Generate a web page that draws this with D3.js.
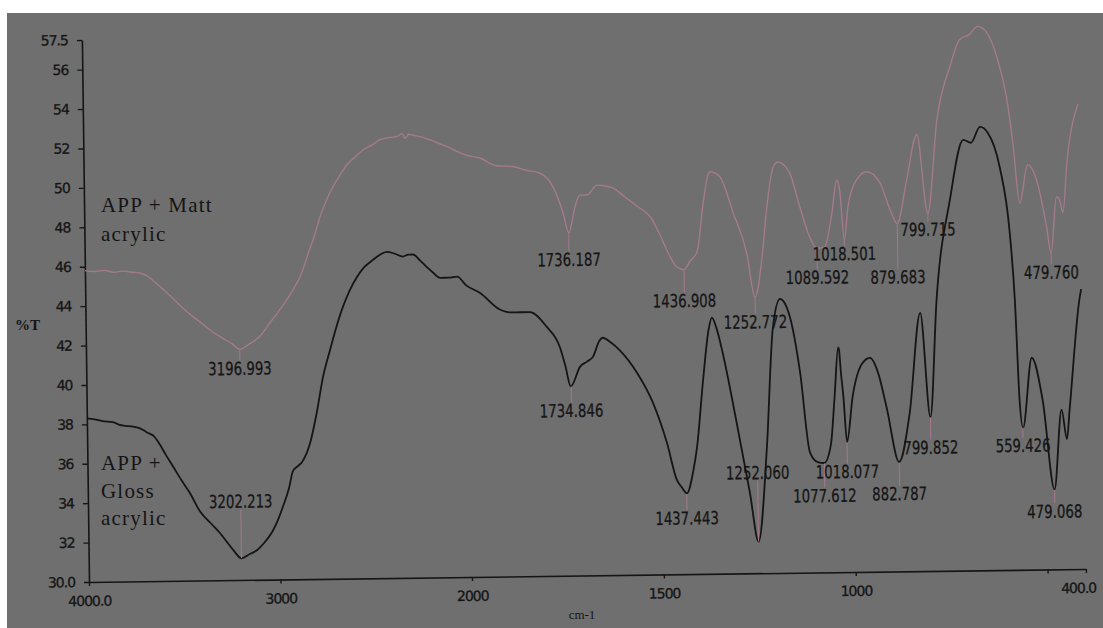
<html>
<head>
    <style>
        body {
            margin: 0;
            background: white;
        }
        svg {
            display: block;
        }
    </style>
    <script src="https://cdn.jsdelivr.net/npm/d3@7/dist/d3.min.js"></script>
</head>

<body>
    <svg id="chart"></svg>

    <script>

    // APP + Matt acrylic (upper, pink trace)
    let mattWn = [4000, 3950, 3900, 3850, 3800, 3765, 3720, 3676, 3640, 3593, 3530, 3470, 3400, 3337, 3280, 3238,
        3197, 3150, 3091, 3040, 2984, 2914, 2870, 2839, 2800, 2768, 2730, 2699, 2660, 2624, 2580, 2538, 2490, 2449,
        2400, 2360, 2335, 2320, 2300, 2277, 2230, 2188, 2140, 2100, 2050, 2000, 1965, 1922, 1880, 1845, 1810, 1776,
        1750, 1736, 1719, 1706, 1688, 1661, 1640, 1620, 1590, 1557, 1523, 1500, 1481, 1456, 1437, 1420, 1410, 1401,
        1385, 1367, 1341, 1307, 1273, 1253, 1234, 1219, 1201, 1189, 1159, 1133, 1108, 1090, 1070, 1050, 1036, 1029,
        1018, 1008, 984, 958, 924, 898, 880, 854, 826, 800, 773, 737, 711, 685, 664, 641, 615, 591, 576, 560, 538,
        516, 491, 480, 464, 456, 448, 435, 405]
    let mattT = [45.8, 45.75, 45.8, 45.7, 45.75, 45.7, 45.65, 45.5, 45.2, 44.8, 44.2, 43.65, 43.1, 42.6, 42.25, 42.0,
        41.7, 41.95, 42.35, 43.0, 43.7, 44.7, 45.5, 46.35, 47.4, 48.4, 49.3, 49.9, 50.5, 51.0, 51.4, 51.75, 52.0, 52.25,
        52.35, 52.4, 52.55, 52.3, 52.5, 52.45, 52.35, 52.2, 52.0, 51.85, 51.6, 51.4, 51.25, 50.85, 50.8, 50.6, 50.45, 49.75,
        48.4, 47.4, 48.7, 49.3, 49.3, 49.8, 49.75, 49.65, 49.2, 48.7, 48.15, 47.3, 46.45, 45.6, 45.45, 45.9, 46.1, 46.45,
        48.8, 50.4, 50.15, 48.3, 46.25, 44.0, 45.9, 48.6, 50.6, 50.85, 50.3, 48.55, 47.0, 46.45, 46.5, 48.2, 49.9, 49.4,
        46.85, 48.5, 49.9, 50.3, 49.75, 48.35, 47.65, 49.85, 52.15, 48.15, 52.9, 55.6, 56.95, 57.2, 57.6, 57.3, 56.05, 54.0, 51.7, 48.6, 50.55,
        49.8, 47.4, 46.05, 48.9, 48.75, 48.1, 50.75, 53.6]

    // APP + Gloss acrylic (lower, black trace)
    let glossWn = [4000, 3960, 3920, 3864, 3830, 3800, 3760, 3720, 3687, 3650, 3619, 3590, 3553, 3510, 3467, 3415,
        3360, 3313, 3246, 3202, 3160, 3121, 3080, 3041, 3010, 2982, 2950, 2927, 2900, 2879, 2836, 2799, 2764, 2726,
        2690, 2655, 2620, 2580, 2540, 2496, 2460, 2423, 2380, 2339, 2310, 2286, 2250, 2214, 2180, 2146, 2100, 2057,
        2010, 1969, 1918, 1892, 1865, 1840, 1797, 1763, 1750, 1736, 1711, 1693, 1677, 1660, 1651, 1630, 1607, 1563,
        1522, 1487, 1463, 1450, 1437, 1420, 1409, 1391, 1375, 1366, 1355, 1339, 1305, 1273, 1252, 1227, 1208, 1188,
        1163, 1138, 1115, 1095, 1078, 1060, 1049, 1038, 1036, 1032, 1026, 1018, 1002, 975, 955, 935, 914, 883, 854,
        823, 800, 780, 742, 705, 685, 661, 641, 611, 587, 576, 567, 559, 534, 507, 479, 458, 445, 437, 408, 403]
    let glossT = [38.3, 38.25, 38.15, 38.1, 37.95, 37.9, 37.85, 37.75, 37.55, 37.35, 36.9, 36.4, 35.8, 35.1, 34.45, 33.5,
        32.9, 32.4, 31.55, 31.1, 31.3, 31.5, 31.9, 32.4, 33.0, 33.7, 34.6, 35.5, 35.75, 35.95, 36.9, 38.45, 40.25, 41.6,
        42.8, 43.8, 44.6, 45.3, 45.8, 46.15, 46.4, 46.55, 46.45, 46.3, 46.4, 46.4, 46.1, 45.75, 45.45, 45.2, 45.2, 45.25,
        44.8, 44.4, 43.55, 43.4, 43.4, 43.4, 42.65, 41.6, 40.7, 39.6, 40.6, 40.85, 41.1, 41.9, 42.05, 41.8, 41.4, 40.25,
        38.7, 36.65, 34.8, 34.4, 34.1, 35.2, 36.45, 39.85, 42.4, 43.0, 42.5, 41.2, 37.65, 34.1, 31.6, 36.4, 42.35, 43.9,
        43.0, 40.15, 36.1, 35.6, 35.55, 36.5, 38.9, 41.4, 41.3, 40.2, 38.9, 36.6, 38.9, 40.6, 40.85, 40.1, 38.35, 35.55, 38.0,
        43.1, 37.8, 43.75, 48.8, 51.85, 51.7, 52.5, 52.2, 50.45, 47.1, 43.7, 38.6, 37.2, 40.75, 38.6, 34.05, 38.1, 36.6, 38.1, 43.65, 44.2]

    let mattPeaks = ["3196.993", "1736.187", "1436.908", "1252.772", "1089.592", "1018.501", "879.683", "799.715", "479.760"]
    let glossPeaks = ["3202.213", "1734.846", "1437.443", "1252.060", "1077.612", "1018.077", "882.787", "799.852", "559.426", "479.068"]

    let xTicks = [4000, 3000, 2000, 1500, 1000, 500, 400]
    let xTickLabels = ["4000.0", "3000", "2000", "1500", "1000", "", "400.0"]
    let yTicks = [30, 32, 34, 36, 38, 40, 42, 44, 46, 48, 50, 52, 54, 56, 57.5]
    let yTickLabels = ["30.0", "32", "34", "36", "38", "40", "42", "44", "46", "48", "50", "52", "54", "56", "57.5"]


    // where each peak label sits, relative to the trace (px)
    let mattLabelDy = [19, 27, 31, 25, 29, 16, 54, 17, 20]
    let glossLabelDy = [-57, 25, 25, -69, 33, 30, 32, 31, 19, 22]

    let ink = "#151515"
    let pink = "#a47a8c"


    function toPoints(wn, t) {
        return wn.map((w, i) => ({ w: w, t: t[i] }))
    }

    // value of the trace at wavenumber w (points run from high to low w)
    function valueAt(pts, w) {
        for (let i = 0; i < pts.length - 1; i++) {
            let a = pts[i], b = pts[i + 1]
            if (w <= a.w && w >= b.w) {
                let f = (a.w - w) / (a.w - b.w)
                return a.t + f * (b.t - a.t)
            }
        }
        return pts[pts.length - 1].t
    }

    function drawPeaks(g, pts, peaks, offsets, x, y) {
        peaks.forEach((p, i) => {
            let w = +p
            let px = x(w)
            let py = y(valueAt(pts, w))
            let ly = py + offsets[i]
            let y1 = offsets[i] > 0 ? py + 1 : ly + 8
            let y2 = offsets[i] > 0 ? ly - 8 : py

            g.append("line")
                .attr("x1", px).attr("x2", px)
                .attr("y1", y1).attr("y2", y2)
                .attr("stroke", pink)
                .attr("stroke-width", 1)

            g.append("text")
                .attr("transform", `translate(${px},${ly}) scale(0.74,1)`)
                .attr("text-anchor", "middle")
                .attr("dy", "0.36em")
                .attr("font-family", "DejaVu Sans")
                .attr("font-size", 18)
                .attr("fill", ink)
                .attr("stroke", ink)
                .attr("stroke-width", 0.3)
                .text(p)
        })
    }


    function drawChart() {
        let width = 1103
        let height = 628

        let svg = d3.select("#chart")
            .attr("width", width)
            .attr("height", height)

        svg.append("rect")
            .attr("width", width).attr("height", height)
            .attr("fill", "white")
        svg.append("rect")
            .attr("x", 7).attr("y", 13)
            .attr("width", width - 7).attr("height", height - 13)
            .attr("fill", "#6f6f6f")

        // x axis is expanded 2x below 2000 cm-1
        let x = d3.scaleLinear()
            .domain([4000, 2000, 400])
            .range([89, 472, 1086])
        let y = d3.scaleLinear()
            .domain([30, 57.5])
            .range([582, 40])

        // the scanned sheet sits a little crooked
        let g = svg.append("g")
            .attr("transform", "rotate(-0.75,89,582)")

        let xAxis = d3.axisBottom(x)
            .tickValues(xTicks)
            .tickFormat((d, i) => xTickLabels[i])
            .tickSizeInner(4)
            .tickSizeOuter(0)
            .tickPadding(10)

        let yAxis = d3.axisLeft(y)
            .tickValues(yTicks)
            .tickFormat((d, i) => yTickLabels[i])
            .tickSizeInner(5)
            .tickSizeOuter(0)
            .tickPadding(9)

        let gx = g.append("g")
            .attr("transform", "translate(0,582)")
            .call(xAxis)
        let gy = g.append("g")
            .attr("transform", "translate(89,0)")
            .call(yAxis)

        for (let ax of [gx, gy]) {
            ax.select(".domain").attr("stroke", ink).attr("stroke-width", 1.6)
            ax.selectAll(".tick line").attr("stroke", ink).attr("stroke-width", 1.4)
            ax.selectAll(".tick text")
                .attr("fill", ink)
                .attr("stroke", ink)
                .attr("stroke-width", 0.3)
                .attr("font-family", "DejaVu Sans")
                .attr("font-size", 14)
                .attr("letter-spacing", -1)
        }
        // last label stays inside the page
        gx.selectAll(".tick text").filter(d => d == 400).attr("dx", -8)

        let line = d3.line()
            .x(d => x(d.w))
            .y(d => y(d.t))
            .curve(d3.curveMonotoneX)

        let matt = toPoints(mattWn, mattT)
        let gloss = toPoints(glossWn, glossT)

        g.append("path")
            .attr("d", line(matt))
            .attr("fill", "none")
            .attr("stroke", pink)
            .attr("stroke-width", 1.4)

        g.append("path")
            .attr("d", line(gloss))
            .attr("fill", "none")
            .attr("stroke", ink)
            .attr("stroke-width", 1.8)

        drawPeaks(g, matt, mattPeaks, mattLabelDy, x, y)
        drawPeaks(g, gloss, glossPeaks, glossLabelDy, x, y)

        // series names and axis titles
        let serif = "'Liberation Serif', 'Times New Roman', serif"

        let names = [
            { lines: ["APP + Matt", "acrylic"], x: 101, y: 212, step: 29 },
            { lines: ["APP +", "Gloss", "acrylic"], x: 101, y: 470, step: 27.5 }
        ]
        for (let n of names) {
            n.lines.forEach((s, i) => {
                svg.append("text")
                    .attr("x", n.x).attr("y", n.y + i * n.step)
                    .attr("font-family", serif)
                    .attr("font-size", 21)
                    .attr("letter-spacing", 1.2)
                    .attr("fill", ink)
                    .text(s)
            })
        }

        svg.append("text")
            .attr("x", 15).attr("y", 330)
            .attr("font-family", serif)
            .attr("font-size", 15)
            .attr("font-weight", "bold")
            .attr("fill", ink)
            .text("%T")

        svg.append("text")
            .attr("x", 582).attr("y", 619)
            .attr("text-anchor", "middle")
            .attr("font-family", serif)
            .attr("font-size", 13)
            .attr("fill", ink)
            .text("cm-1")
    }

    drawChart()

    </script>
</body>

</html>
